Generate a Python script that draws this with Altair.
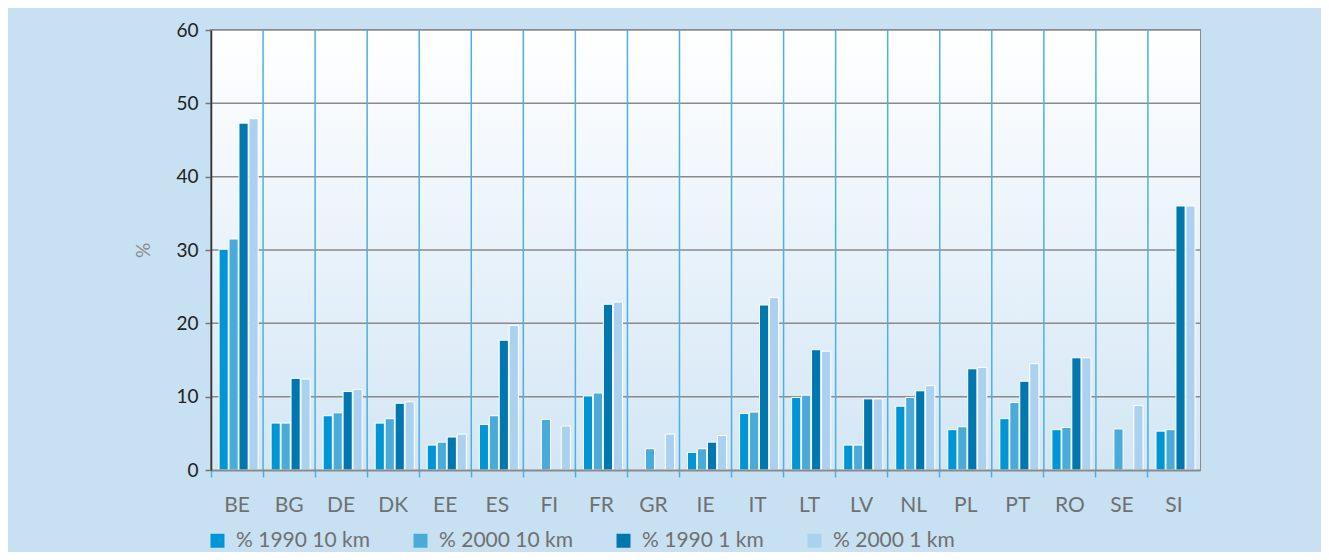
import altair as alt
import pandas as pd

countries = ["BE", "BG", "DE", "DK", "EE", "ES", "FI", "FR", "GR", "IE",
             "IT", "LT", "LV", "NL", "PL", "PT", "RO", "SE", "SI"]
series = ["% 1990 10 km", "% 2000 10 km", "% 1990 1 km", "% 2000 1 km"]
colors = ["#0096d6", "#4aabd9", "#0077ae", "#acd1ee"]
y_ticks = [0, 10, 20, 30, 40, 50, 60]

v1990_10 = [30.1, 6.4, 7.4, 6.4, 3.4, 6.2, None, 10.1, None, 2.4,
            7.7, 9.9, 3.4, 8.7, 5.5, 7.0, 5.5, None, 5.3]
v2000_10 = [31.5, 6.4, 7.8, 7.0, 3.8, 7.4, 6.9, 10.5, 2.9, 2.9,
            7.9, 10.2, 3.4, 9.9, 5.9, 9.2, 5.8, 5.6, 5.5]
v1990_1 = [47.3, 12.5, 10.7, 9.1, 4.5, 17.7, None, 22.6, None, 3.8,
           22.5, 16.4, 9.7, 10.8, 13.8, 12.1, 15.3, None, 36.0]
v2000_1 = [47.9, 12.4, 11.0, 9.3, 4.9, 19.7, 6.0, 22.9, 4.9, 4.7,
           23.5, 16.2, 9.7, 11.5, 14.0, 14.5, 15.3, 8.8, 36.0]

rows = []
for s, vals in zip(series, [v1990_10, v2000_10, v1990_1, v2000_1]):
    for c, v in zip(countries, vals):
        if v is not None:
            rows.append({"country": c, "series": s, "value": v})
df = pd.DataFrame(rows)

FONT = "Lato"

x_axis = alt.Axis(bandPosition=0, grid=False, title=None,
                  ticks=True, tickColor="#4db0e0", tickSize=7, tickWidth=1.5,
                  domainColor="#8a8a8a", domainWidth=2,
                  labelAngle=0, labelFont=FONT, labelFontSize=21,
                  labelColor="#707070", labelPadding=17,
                  labelAlign="center", labelFlush=False, zindex=1)
y_axis = alt.Axis(values=y_ticks, grid=False, title="%",
                  domainColor="#333333", domainWidth=1.5,
                  tickColor="#777777", tickSize=6, tickWidth=1.5,
                  labelFont=FONT, labelFontSize=19, labelColor="#222222",
                  labelPadding=7,
                  titleFont=FONT, titleFontSize=19, titleFontWeight="normal",
                  titleColor="#8a8a8a", titlePadding=22, zindex=1)
x_scale = alt.Scale(domain=countries, paddingInner=0, paddingOuter=0)
y_scale = alt.Scale(domain=[0, 60], nice=False)

gradient = alt.LinearGradient(
    gradient="linear", x1=0, y1=0, x2=0, y2=1,
    stops=[alt.GradientStop(offset=0, color="#ffffff"),
           alt.GradientStop(offset=1, color="#d3e6f5")])

bg = alt.Chart(pd.DataFrame({"a": [0]})).mark_rect(fill=gradient).encode(
    x=alt.value(0), x2=alt.value("width"), y=alt.value(0), y2=alt.value("height"))

hgrid = alt.Chart(pd.DataFrame({"value": y_ticks[1:]})).mark_rule(
    color="#8a8a8a", strokeWidth=1.5).encode(
    y=alt.Y("value:Q", scale=y_scale, axis=y_axis))

vgrid = alt.Chart(pd.DataFrame({"country": countries[1:]})).mark_rule(
    color="#4db0e0", strokeWidth=1.5).encode(
    x=alt.X("country:N", bandPosition=0, sort=countries, scale=x_scale, axis=x_axis))

bars = alt.Chart(df).mark_bar(stroke="white", strokeWidth=1).encode(
    x=alt.X("country:N", sort=countries, scale=x_scale, axis=x_axis),
    xOffset=alt.XOffset("series:N", sort=series,
                        scale=alt.Scale(domain=series, paddingInner=0.08, paddingOuter=0.65, align=0.62)),
    y=alt.Y("value:Q", scale=y_scale, axis=y_axis),
    color=alt.Color("series:N", sort=series, title=None,
                    scale=alt.Scale(domain=series, range=colors),
                    legend=alt.Legend(orient="none", legendX=-4, legendY=500,
                                      direction="horizontal", symbolType="square",
                                      symbolSize=196, symbolStrokeWidth=0,
                                      labelFont=FONT, labelFontSize=21,
                                      labelColor="#707070", labelOffset=8,
                                      columnPadding=40)),
)

chart = alt.layer(bg, hgrid, vgrid, bars).properties(
    width=989,
    height=440,
    background="#c7e1f3",
    padding={"left": 203, "top": 22, "right": 121, "bottom": 82},
    autosize=alt.AutoSizeParams(type="none"),
).configure_view(
    stroke="#8a8a8a",
    strokeWidth=2,
)

chart.save("out.html", embed_options={"renderer": "svg", "actions": False})
